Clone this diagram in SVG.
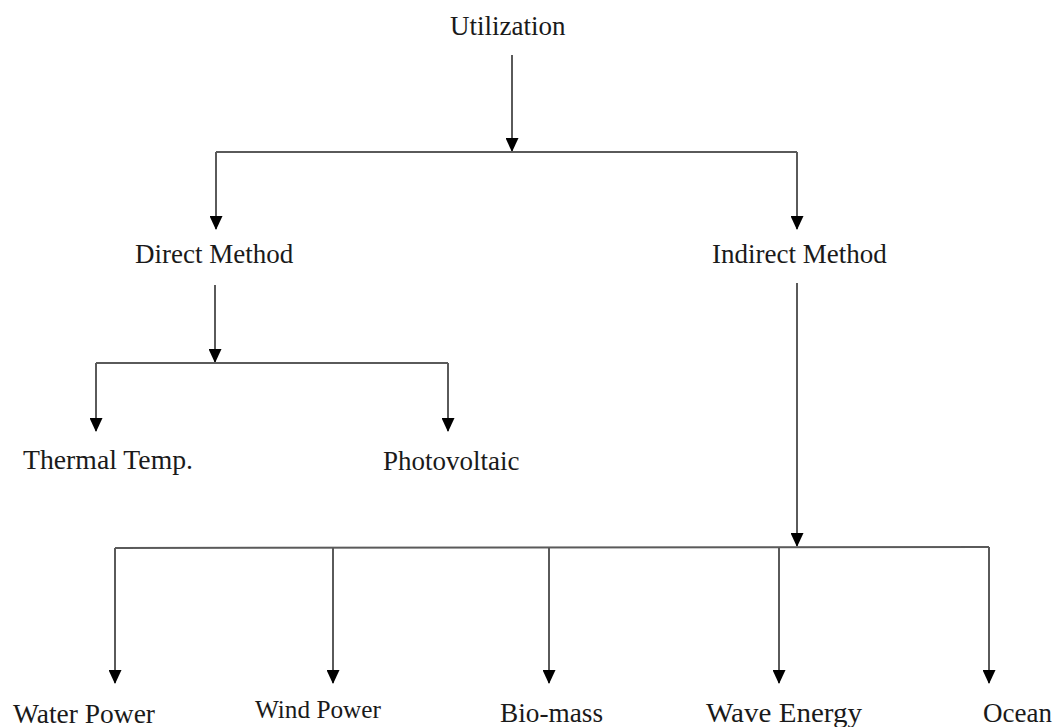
<svg xmlns="http://www.w3.org/2000/svg" width="1058" height="727" viewBox="0 0 1058 727">
<style>
text{font-family:"Liberation Serif","Times New Roman",serif;font-size:27px;fill:#1a1a1a}
.c line,.c polyline{stroke:#5a5a5a;stroke-width:2;fill:none}
</style>
<defs>
<marker id="ah" markerUnits="userSpaceOnUse" markerWidth="14" markerHeight="13" refX="13" refY="6.5" orient="auto" viewBox="0 0 14 13">
<path d="M0,0 L14,6.5 L0,13 Z" fill="#000"/>
</marker>
</defs>
<rect width="1058" height="727" fill="#fff"/>
<g class="c" id="connectors">
<line x1="512" y1="55" x2="512" y2="151" marker-end="url(#ah)"/>
<polyline points="216,152 797,152"/>
<line x1="216" y1="152" x2="216" y2="229" marker-end="url(#ah)"/>
<line x1="797" y1="152" x2="797" y2="229" marker-end="url(#ah)"/>
<line x1="215" y1="285" x2="215" y2="362" marker-end="url(#ah)"/>
<polyline points="96,363 448,363"/>
<line x1="96" y1="363" x2="96" y2="431" marker-end="url(#ah)"/>
<line x1="448" y1="363" x2="448" y2="431" marker-end="url(#ah)"/>
<line x1="797" y1="283" x2="797" y2="546" marker-end="url(#ah)"/>
<polyline points="115,548 989,547"/>
<line x1="115" y1="548" x2="115" y2="683" marker-end="url(#ah)"/>
<line x1="333" y1="548" x2="333" y2="683" marker-end="url(#ah)"/>
<line x1="549" y1="547" x2="549" y2="683" marker-end="url(#ah)"/>
<line x1="779" y1="547" x2="779" y2="683" marker-end="url(#ah)"/>
<line x1="989" y1="547" x2="989" y2="683" marker-end="url(#ah)"/>
</g>
<g id="utilization"><text x="450" y="35">Utilization</text></g>
<g id="direct"><text x="135" y="263">Direct Method</text></g>
<g id="indirect"><text x="712" y="263">Indirect Method</text></g>
<g id="thermal"><text x="23" y="469" textLength="170" lengthAdjust="spacingAndGlyphs">Thermal Temp.</text></g>
<g id="photovoltaic"><text x="383" y="470">Photovoltaic</text></g>
<g id="water"><text x="13" y="723" textLength="142" lengthAdjust="spacingAndGlyphs">Water Power</text></g>
<g id="wind"><text x="255" y="718" textLength="126" lengthAdjust="spacingAndGlyphs" style="font-size:25px">Wind Power</text></g>
<g id="biomass"><text x="500" y="722" textLength="103" lengthAdjust="spacingAndGlyphs">Bio-mass</text></g>
<g id="wave"><text x="706" y="722" textLength="156" lengthAdjust="spacingAndGlyphs">Wave Energy</text></g>
<g id="ocean"><text x="983" y="722">Ocean</text></g>
</svg>
